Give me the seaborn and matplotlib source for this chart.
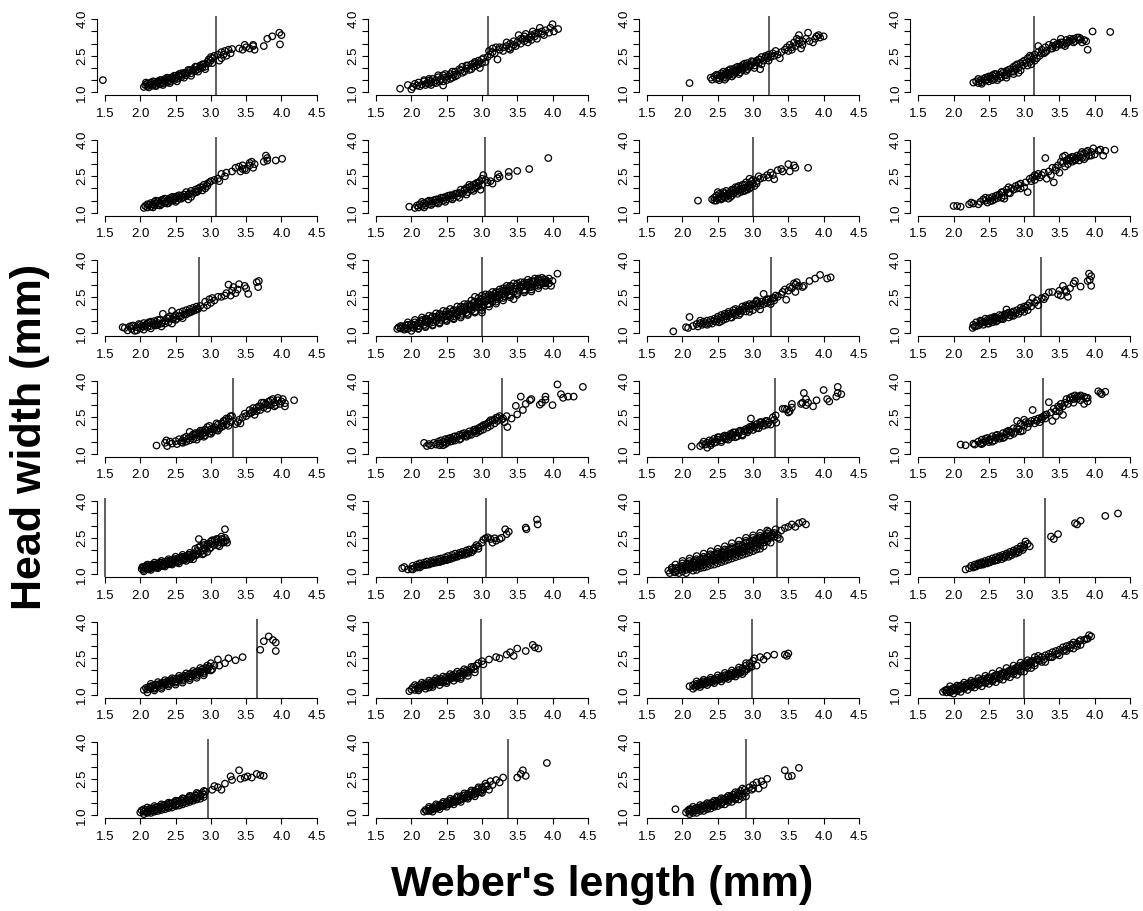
import matplotlib
matplotlib.use("Agg")
import matplotlib.pyplot as plt
import seaborn as sns
import pandas as pd

# ---- data: one list of (Weber's length, head width) points per panel ----
P01 = [(1.47,1.50),(2.05,1.22),(2.07,1.30),(2.10,1.25),(2.10,1.36),(2.13,1.30),(2.15,1.40),(2.17,1.27),(2.20,1.35),(2.20,1.42),(2.22,1.30),(2.25,1.38),(2.25,1.45),(2.28,1.33),(2.30,1.42),(2.30,1.50),(2.32,1.37),(2.35,1.45),(2.35,1.55),(2.38,1.40),(2.40,1.50),(2.40,1.58),(2.42,1.45),(2.45,1.55),(2.45,1.62),(2.48,1.50),(2.50,1.60),(2.50,1.68),(2.52,1.55),(2.55,1.65),(2.55,1.75),(2.58,1.62),(2.60,1.72),(2.62,1.80),(2.65,1.70),(2.68,1.82),(2.70,1.90),(2.72,1.78),(2.75,1.95),(2.78,1.88),(2.80,2.05),(2.82,1.95),(2.85,2.10),(2.88,2.02),(2.90,2.15),(2.92,2.05),(2.95,2.25),(2.97,2.35),(3.00,2.30),(3.00,2.45),(3.02,2.20),(3.05,2.50),(3.10,2.55),(3.15,2.40),(3.15,2.65),(3.18,2.55),(3.20,2.70),(3.22,2.50),(3.25,2.75),(3.28,2.60),(3.30,2.78),(3.40,2.80),(3.45,2.75),(3.48,2.95),(3.50,2.85),(3.55,2.80),(3.60,2.90),(3.62,2.75),(3.75,2.90),(3.80,3.20),(3.87,3.30),(3.97,3.45),(3.98,2.97),(4.00,3.35),(3.60,2.95),(3.12,2.30),
       (2.08,1.40),(2.12,1.20),(2.18,1.45),(2.22,1.25),(2.28,1.50),(2.32,1.30),(2.38,1.60),(2.42,1.38),(2.48,1.68),(2.52,1.45),(2.58,1.78),(2.62,1.60),(2.68,1.92),(2.72,1.68),(2.78,2.05),(2.82,1.85),(2.88,2.15),(2.92,1.95),(2.97,2.20),(3.02,2.40),(2.15,1.32),(2.25,1.40),(2.35,1.48),(2.45,1.58),(2.55,1.68),(2.65,1.78),(2.75,1.88),(2.85,2.00)]
P02 = [(1.84,1.15),(1.95,1.30),(2.00,1.12),(2.02,1.22),(2.05,1.35),(2.08,1.28),(2.10,1.40),(2.15,1.32),(2.18,1.45),(2.20,1.30),(2.22,1.38),(2.25,1.48),(2.25,1.35),(2.28,1.42),(2.30,1.55),(2.32,1.40),(2.35,1.50),(2.38,1.62),(2.40,1.45),(2.42,1.55),(2.45,1.70),(2.45,1.28),(2.48,1.60),(2.50,1.50),(2.52,1.65),(2.55,1.75),(2.58,1.60),(2.60,1.72),(2.62,1.85),(2.65,1.70),(2.70,1.90),(2.72,2.05),(2.75,1.85),(2.78,1.98),(2.80,2.10),(2.82,1.92),(2.85,2.15),(2.88,2.05),(2.90,2.25),(2.92,2.10),(2.95,2.30),(2.97,2.00),(3.00,2.35),(3.02,2.40),(3.05,2.25),(3.08,2.45),(3.10,2.70),(3.12,2.55),(3.15,2.80),(3.18,2.60),(3.20,2.85),(3.22,2.35),(3.25,2.75),(3.30,2.70),(3.35,2.90),(3.38,2.80),(3.40,3.00),(3.42,2.85),(3.45,3.10),(3.48,2.90),(3.50,3.05),(3.52,3.35),(3.55,3.00),(3.58,3.20),(3.60,3.10),(3.62,3.40),(3.65,3.05),(3.68,3.25),(3.70,3.15),(3.72,3.50),(3.75,3.30),(3.78,3.20),(3.80,3.45),(3.82,3.65),(3.85,3.50),(3.88,3.35),(3.90,3.55),(3.95,3.45),(3.97,3.65),(4.00,3.80),(4.02,3.50),(4.08,3.60),(3.60,3.30),(3.35,3.05),
       (2.12,1.25),(2.18,1.50),(2.25,1.55),(2.28,1.30),(2.35,1.38),(2.38,1.70),(2.45,1.45),(2.48,1.75),(2.55,1.55),(2.58,1.85),(2.62,1.65),(2.68,1.95),(2.72,1.80),(2.78,2.10),(2.85,1.95),(2.90,2.20),(2.95,2.15),(3.00,2.20),(3.25,2.85),(3.45,2.95),(3.55,3.20),(3.65,3.20),(3.75,3.40),(3.85,3.40),(3.70,3.35),(3.40,2.75),(3.30,2.85),(3.15,2.65)]
P03 = [(2.10,1.38),(2.40,1.60),(2.42,1.52),(2.45,1.65),(2.48,1.55),(2.50,1.70),(2.52,1.58),(2.55,1.65),(2.55,1.78),(2.58,1.60),(2.60,1.72),(2.60,1.52),(2.62,1.82),(2.65,1.68),(2.65,1.90),(2.68,1.75),(2.70,1.85),(2.70,1.65),(2.72,1.95),(2.75,1.80),(2.75,2.00),(2.78,1.88),(2.80,1.95),(2.80,1.75),(2.82,2.05),(2.85,1.92),(2.85,2.12),(2.88,2.00),(2.90,2.10),(2.90,1.88),(2.92,2.20),(2.95,2.05),(2.98,2.15),(3.00,2.25),(3.02,2.10),(3.05,2.30),(3.08,2.20),(3.10,2.35),(3.10,1.95),(3.12,2.45),(3.15,2.30),(3.18,2.50),(3.20,2.40),(3.22,2.55),(3.25,2.45),(3.28,2.60),(3.30,2.50),(3.32,2.70),(3.35,2.55),(3.38,2.40),(3.40,2.65),(3.45,2.75),(3.48,2.85),(3.50,2.70),(3.52,2.95),(3.55,2.85),(3.58,3.05),(3.60,2.90),(3.62,3.20),(3.65,3.00),(3.68,2.80),(3.70,3.10),(3.75,3.20),(3.78,3.45),(3.80,3.10),(3.85,3.05),(3.88,3.20),(3.90,3.30),(3.93,3.35),(3.95,3.25),(4.00,3.30),(3.65,3.35),
       (2.48,1.72),(2.52,1.50),(2.58,1.85),(2.62,1.60),(2.68,1.95),(2.72,1.72),(2.78,2.05),(2.82,1.82),(2.88,2.18),(2.92,1.95),(2.98,2.28),(3.02,2.00),(3.08,2.35),(3.12,2.15),(3.18,2.45),(3.22,2.30),(2.55,1.70),(2.65,1.80),(2.75,1.90),(2.85,2.02),(2.95,2.12),(3.05,2.22),(3.55,2.75),(3.65,3.15),(3.70,2.95)]
P04 = [(2.28,1.40),(2.32,1.45),(2.35,1.38),(2.38,1.50),(2.40,1.42),(2.42,1.55),(2.45,1.48),(2.45,1.60),(2.48,1.52),(2.50,1.65),(2.50,1.45),(2.52,1.58),(2.55,1.70),(2.58,1.55),(2.60,1.65),(2.60,1.75),(2.62,1.50),(2.65,1.72),(2.68,1.62),(2.70,1.80),(2.72,1.70),(2.75,1.88),(2.75,1.60),(2.78,1.78),(2.80,1.95),(2.82,1.85),(2.85,2.05),(2.85,1.75),(2.88,1.95),(2.90,2.15),(2.92,2.00),(2.95,1.90),(2.95,2.20),(2.98,2.10),(3.00,2.30),(3.02,2.20),(3.05,2.40),(3.08,2.25),(3.10,2.45),(3.10,2.15),(3.12,2.35),(3.15,2.55),(3.18,2.40),(3.20,2.65),(3.20,2.90),(3.22,2.50),(3.25,2.75),(3.28,2.60),(3.30,2.85),(3.32,2.70),(3.35,2.95),(3.38,2.80),(3.40,2.90),(3.42,3.05),(3.45,2.85),(3.48,3.00),(3.50,2.95),(3.52,3.20),(3.55,3.05),(3.58,2.90),(3.60,3.15),(3.62,3.05),(3.65,3.10),(3.68,3.15),(3.70,3.05),(3.72,3.10),(3.75,3.25),(3.78,3.15),(3.80,3.20),(3.82,3.05),(3.85,3.15),(3.90,2.75),(3.88,3.10),(3.97,3.50),(4.22,3.48),
       (2.35,1.55),(2.40,1.35),(2.48,1.62),(2.55,1.50),(2.58,1.75),(2.65,1.58),(2.68,1.85),(2.75,1.70),(2.78,1.92),(2.85,1.85),(2.88,2.10),(2.92,1.80),(2.98,2.25),(3.05,2.10),(3.08,2.50),(3.15,2.30),(3.25,2.60),(3.30,2.65),(3.40,2.80),(3.45,2.95),(3.55,2.95),(3.60,3.00),(3.65,3.20),(3.70,3.20),(3.78,3.25),(3.52,3.05)]
P05 = [(2.05,1.20),(2.07,1.28),(2.10,1.22),(2.12,1.32),(2.15,1.40),(2.15,1.25),(2.18,1.35),(2.20,1.30),(2.20,1.45),(2.22,1.38),(2.25,1.32),(2.25,1.48),(2.28,1.40),(2.30,1.35),(2.30,1.52),(2.32,1.45),(2.35,1.40),(2.35,1.58),(2.38,1.48),(2.40,1.55),(2.40,1.40),(2.42,1.60),(2.45,1.50),(2.45,1.65),(2.48,1.55),(2.50,1.62),(2.50,1.45),(2.52,1.68),(2.55,1.58),(2.58,1.70),(2.60,1.62),(2.62,1.75),(2.65,1.68),(2.65,1.85),(2.68,1.55),(2.70,1.80),(2.72,1.90),(2.75,1.78),(2.78,1.95),(2.80,1.85),(2.82,2.00),(2.85,2.05),(2.88,1.92),(2.90,2.15),(2.92,2.00),(2.95,2.10),(2.98,2.25),(3.00,2.30),(3.05,2.35),(3.10,2.40),(3.12,2.30),(3.15,2.60),(3.20,2.50),(3.22,2.65),(3.30,2.70),(3.35,2.85),(3.40,2.90),(3.42,2.70),(3.45,2.95),(3.48,2.80),(3.50,2.75),(3.55,2.95),(3.58,3.10),(3.60,2.85),(3.62,3.00),(3.75,3.10),(3.78,3.35),(3.80,3.15),(3.80,3.25),(3.92,3.15),(4.01,3.22),
       (2.10,1.35),(2.18,1.22),(2.22,1.50),(2.28,1.30),(2.32,1.55),(2.38,1.38),(2.42,1.50),(2.48,1.65),(2.52,1.50),(2.55,1.72),(2.58,1.58),(2.62,1.65),(2.68,1.75),(2.72,1.65),(2.78,1.85),(2.82,1.90),(2.88,2.05),(2.95,2.20),(3.45,2.80),(3.55,3.05)]
P06 = [(1.97,1.25),(2.05,1.20),(2.08,1.30),(2.10,1.22),(2.12,1.35),(2.15,1.28),(2.18,1.40),(2.20,1.30),(2.22,1.45),(2.25,1.35),(2.28,1.48),(2.30,1.38),(2.32,1.52),(2.35,1.42),(2.38,1.55),(2.40,1.45),(2.42,1.62),(2.45,1.50),(2.48,1.65),(2.50,1.55),(2.52,1.70),(2.55,1.60),(2.58,1.72),(2.60,1.62),(2.62,1.78),(2.65,1.68),(2.68,1.82),(2.70,1.95),(2.72,1.78),(2.75,1.90),(2.78,2.02),(2.80,1.85),(2.82,2.05),(2.85,1.95),(2.88,2.15),(2.90,2.00),(2.92,2.22),(2.95,2.10),(2.97,2.30),(2.98,1.95),(3.00,2.40),(3.02,2.55),(3.05,2.35),(3.08,2.25),(3.12,2.30),(3.15,2.20),(3.22,2.42),(3.23,2.58),(3.25,2.48),(3.38,2.50),(3.38,2.68),(3.50,2.72),(3.67,2.80),(3.94,3.25),
       (2.15,1.45),(2.18,1.22),(2.25,1.50),(2.28,1.32),(2.35,1.55),(2.38,1.38),(2.45,1.62),(2.48,1.45),(2.55,1.72),(2.58,1.55),(2.65,1.80),(2.68,1.62),(2.75,1.95),(2.78,1.75),(2.85,2.10),(2.88,1.90),(2.95,2.25),(2.92,2.05),(3.00,2.15),(2.82,2.15)]
P07 = [(2.22,1.50),(2.42,1.55),(2.45,1.62),(2.45,1.50),(2.48,1.70),(2.50,1.58),(2.50,1.85),(2.52,1.65),(2.55,1.75),(2.55,1.55),(2.58,1.68),(2.60,1.80),(2.60,1.62),(2.62,1.90),(2.65,1.72),(2.65,1.58),(2.68,1.85),(2.70,1.95),(2.70,1.70),(2.72,1.80),(2.75,1.92),(2.75,2.05),(2.78,1.78),(2.80,1.95),(2.80,2.10),(2.82,1.85),(2.85,2.00),(2.85,2.15),(2.88,1.90),(2.90,2.05),(2.90,2.25),(2.92,1.95),(2.95,2.15),(2.95,2.40),(2.97,2.05),(3.00,2.20),(3.00,2.35),(3.02,2.10),(3.05,2.30),(3.08,2.50),(3.10,2.40),(3.15,2.45),(3.20,2.55),(3.22,2.45),(3.25,2.65),(3.28,2.55),(3.30,2.38),(3.35,2.75),(3.40,2.80),(3.42,2.70),(3.50,3.00),(3.52,2.70),(3.58,2.95),(3.60,2.85),(3.78,2.85),
       (2.48,1.50),(2.52,1.78),(2.58,1.85),(2.62,1.70),(2.68,1.65),(2.72,1.95),(2.78,2.05),(2.82,1.95),(2.88,2.15),(2.92,2.05),(2.98,2.30),(3.05,2.20),(2.55,1.60),(2.65,1.80),(2.75,1.85),(2.85,1.88),(2.95,2.00)]
P08 = [(2.00,1.28),(2.05,1.28),(2.10,1.25),(2.22,1.35),(2.25,1.42),(2.28,1.38),(2.35,1.35),(2.38,1.45),(2.42,1.55),(2.45,1.50),(2.48,1.42),(2.50,1.60),(2.52,1.48),(2.55,1.65),(2.58,1.55),(2.60,1.70),(2.62,1.60),(2.65,1.75),(2.68,1.62),(2.70,1.85),(2.72,1.70),(2.75,1.95),(2.78,2.05),(2.80,1.80),(2.85,1.95),(2.88,2.10),(2.90,2.00),(2.92,2.15),(2.95,2.20),(3.00,2.05),(3.02,2.25),(3.05,1.85),(3.08,2.40),(3.10,2.30),(3.12,2.45),(3.15,2.35),(3.18,2.50),(3.20,2.60),(3.22,2.45),(3.25,2.55),(3.28,2.65),(3.30,3.25),(3.32,2.40),(3.35,2.70),(3.38,2.55),(3.40,2.85),(3.42,2.25),(3.45,2.75),(3.48,2.95),(3.50,2.65),(3.52,3.10),(3.55,3.30),(3.58,2.90),(3.60,3.15),(3.62,3.00),(3.65,3.25),(3.68,3.10),(3.70,3.30),(3.72,3.20),(3.75,3.35),(3.78,3.15),(3.80,3.40),(3.82,3.25),(3.85,3.45),(3.88,3.30),(3.90,3.55),(3.92,3.35),(3.95,3.50),(3.98,3.65),(4.00,3.40),(4.05,3.55),(4.08,3.60),(4.12,3.35),(4.15,3.55),(4.28,3.60),
       (2.45,1.62),(2.55,1.50),(2.62,1.72),(2.68,1.85),(2.72,1.58),(2.78,1.82),(2.82,2.00),(2.95,2.00),(3.15,2.55),(3.45,2.85),(3.55,3.05),(3.62,3.20),(3.68,3.30),(3.72,3.15),(3.78,3.30),(3.85,3.20),(3.88,3.50),(3.95,3.35),(3.82,3.50),(3.75,3.25),(3.58,3.35),(3.65,3.15)]
P09 = [(1.75,1.25),(1.78,1.22),(1.82,1.12),(1.85,1.28),(1.88,1.18),(1.90,1.32),(1.92,1.10),(1.95,1.25),(1.98,1.38),(2.00,1.20),(2.02,1.30),(2.05,1.15),(2.08,1.35),(2.10,1.25),(2.12,1.45),(2.15,1.30),(2.18,1.38),(2.20,1.50),(2.22,1.32),(2.25,1.42),(2.28,1.55),(2.30,1.40),(2.32,1.80),(2.35,1.50),(2.38,1.62),(2.40,1.45),(2.42,1.70),(2.45,1.58),(2.45,1.92),(2.48,1.65),(2.50,1.75),(2.52,1.60),(2.55,1.85),(2.58,1.70),(2.60,1.90),(2.62,1.78),(2.65,1.95),(2.68,1.85),(2.70,2.00),(2.72,1.88),(2.75,2.05),(2.78,1.95),(2.80,2.10),(2.82,2.00),(2.85,2.12),(2.90,2.05),(2.92,2.30),(2.95,2.15),(2.98,2.40),(3.00,2.25),(3.02,2.45),(3.05,2.35),(3.10,2.50),(3.15,2.50),(3.20,2.55),(3.22,2.65),(3.25,3.00),(3.28,2.55),(3.30,2.75),(3.32,2.90),(3.35,2.65),(3.38,2.80),(3.40,3.02),(3.48,2.95),(3.50,2.85),(3.53,2.62),(3.65,3.10),(3.67,2.90),(3.68,3.15),
       (1.88,1.30),(1.95,1.12),(2.00,1.35),(2.05,1.28),(2.10,1.40),(2.15,1.20),(2.20,1.35),(2.25,1.55),(2.30,1.28),(2.35,1.40),(2.40,1.62),(2.45,1.40),(2.50,1.55),(2.55,1.70),(2.60,1.62),(2.65,1.78),(2.70,1.85),(2.75,1.92),(2.80,2.00),(2.25,1.35),(2.15,1.48),(2.05,1.42)]
P10 = [(1.80,1.18),(1.82,1.25),(1.85,1.20),(1.88,1.28),(1.90,1.22),(1.92,1.32),(1.95,1.18),(1.98,1.30),(2.00,1.25),(2.00,1.38),(2.03,1.22),(2.05,1.35),(2.08,1.28),(2.10,1.42),(2.12,1.30),(2.15,1.48),(2.15,1.55),(2.18,1.35),(2.20,1.45),(2.22,1.58),(2.25,1.40),(2.25,1.52),(2.28,1.62),(2.30,1.45),(2.32,1.55),(2.35,1.68),(2.35,1.50),(2.38,1.60),(2.40,1.72),(2.42,1.55),(2.45,1.65),(2.45,1.78),(2.48,1.58),(2.50,1.70),(2.52,1.82),(2.55,1.65),(2.55,1.75),(2.58,1.88),(2.60,1.70),(2.62,1.82),(2.65,1.95),(2.65,1.75),(2.68,1.88),(2.70,2.00),(2.72,1.80),(2.75,1.92),(2.75,2.08),(2.78,1.85),(2.80,2.00),(2.82,2.15),(2.85,1.95),(2.85,2.10),(2.88,2.25),(2.90,2.05),(2.90,2.50),(2.92,2.18),(2.95,2.32),(2.95,2.08),(2.98,2.25),(3.00,2.40),(3.00,1.85),(3.02,2.15),(3.05,2.30),(3.05,2.50),(3.08,2.20),(3.10,2.38),(3.12,2.55),(3.15,2.30),(3.15,2.45),(3.18,2.62),(3.20,2.40),(3.22,2.55),(3.25,2.70),(3.25,2.45),(3.28,2.60),(3.30,2.75),(3.32,2.52),(3.35,2.68),(3.35,2.85),(3.38,2.60),(3.40,2.75),(3.42,2.92),(3.45,2.70),(3.45,2.40),(3.48,2.82),(3.50,2.95),(3.52,2.75),(3.55,2.88),(3.58,3.00),(3.60,2.80),(3.62,2.95),(3.65,3.08),(3.68,2.90),(3.70,2.72),(3.70,3.02),(3.72,3.12),(3.75,2.95),(3.78,3.08),(3.80,3.18),(3.82,3.00),(3.85,3.12),(3.88,3.22),(3.90,3.05),(3.92,3.15),(3.95,3.25),(3.98,2.95),(4.00,3.15),(4.07,3.45),
       (1.85,1.30),(1.90,1.15),(1.95,1.35),(2.05,1.45),(2.10,1.20),(2.20,1.30),(2.20,1.60),(2.30,1.70),(2.30,1.35),(2.40,1.45),(2.40,1.80),(2.50,1.90),(2.50,1.55),(2.60,1.62),(2.60,1.95),(2.70,2.10),(2.70,1.72),(2.80,1.80),(2.80,2.20),(2.90,1.90),(2.90,2.30),(3.00,2.05),(3.00,2.55),(3.10,2.20),(3.10,2.60),(3.20,2.30),(3.20,2.70),(3.30,2.45),(3.30,2.85),(3.40,2.55),(3.40,2.95),(3.50,2.65),(3.50,3.05),(3.60,2.75),(3.60,3.10),(3.70,2.90),(3.70,3.15),(3.80,2.95),(3.80,3.25),(3.90,3.20),(3.90,3.10),(3.95,3.05),(2.55,1.80),(2.65,1.85),(2.75,2.00),(2.85,2.15),(2.95,2.20),(3.05,2.40),(3.15,2.55),(3.25,2.60),(3.35,2.75),(3.45,2.85),(3.55,2.95),(3.65,3.00),(3.75,3.15),(3.85,3.05),
       (1.95,1.45),(2.05,1.55),(2.15,1.65),(2.25,1.72),(2.35,1.82),(2.45,1.92),(2.55,2.00),(2.65,2.10),(2.75,2.20),(2.85,2.35),(2.95,2.45),(3.05,2.60),(3.15,2.70),(3.25,2.80),(3.35,2.95),(3.45,3.05),(3.55,3.10),(3.65,3.20),(3.75,3.25),(3.85,3.28),(2.00,1.10),(2.10,1.18),(2.20,1.25),(2.30,1.32),(2.40,1.40),(2.50,1.50),(2.60,1.58),(2.70,1.65),(2.80,1.75),(2.90,1.85),(3.00,1.95),(3.10,2.10),(3.20,2.22),(3.30,2.35),(3.40,2.48),(3.50,2.58),(3.60,2.68),(3.70,2.80),(3.80,2.85),(3.90,2.95)]
P11 = [(1.87,1.08),(2.05,1.25),(2.08,1.22),(2.10,1.67),(2.15,1.30),(2.20,1.38),(2.22,1.28),(2.25,1.42),(2.28,1.35),(2.30,1.48),(2.32,1.38),(2.35,1.52),(2.38,1.42),(2.40,1.55),(2.42,1.40),(2.45,1.60),(2.48,1.48),(2.50,1.58),(2.52,1.45),(2.55,1.65),(2.58,1.55),(2.60,1.70),(2.62,1.60),(2.65,1.88),(2.65,1.72),(2.68,1.65),(2.70,1.80),(2.72,1.95),(2.75,1.75),(2.78,1.88),(2.80,1.98),(2.82,1.82),(2.85,1.95),(2.88,2.05),(2.90,1.90),(2.92,2.10),(2.95,2.00),(2.98,2.15),(3.00,1.95),(3.02,2.20),(3.05,2.08),(3.08,2.25),(3.10,2.15),(3.12,2.30),(3.15,2.62),(3.15,2.20),(3.18,2.35),(3.20,2.25),(3.22,2.40),(3.25,2.30),(3.28,2.45),(3.30,2.35),(3.32,2.55),(3.35,2.50),(3.40,2.60),(3.42,2.70),(3.45,2.80),(3.47,2.38),(3.50,2.75),(3.52,2.90),(3.55,2.85),(3.58,3.05),(3.60,2.70),(3.62,3.10),(3.65,2.95),(3.70,2.90),(3.72,2.95),(3.80,3.15),(3.88,3.25),(3.95,3.40),(4.05,3.25),(4.10,3.30),(3.60,3.00),
       (2.25,1.52),(2.35,1.35),(2.45,1.50),(2.50,1.68),(2.55,1.50),(2.60,1.80),(2.70,1.65),(2.75,2.00),(2.80,1.75),(2.85,2.10),(2.90,2.15),(2.95,1.88),(3.00,2.20),(3.05,2.30),(3.10,1.98),(3.20,2.40),(3.25,2.20),(3.30,2.45),(2.55,1.75),(2.65,1.80),(2.72,1.85),(2.82,1.92),(2.95,2.20),(3.05,2.35)]
P12 = [(2.27,1.22),(2.28,1.35),(2.30,1.28),(2.32,1.45),(2.35,1.32),(2.38,1.40),(2.40,1.50),(2.42,1.35),(2.45,1.45),(2.48,1.55),(2.50,1.40),(2.52,1.50),(2.55,1.62),(2.55,1.45),(2.58,1.55),(2.60,1.65),(2.62,1.52),(2.65,1.60),(2.68,1.72),(2.70,1.58),(2.72,1.68),(2.75,1.80),(2.75,1.98),(2.78,1.65),(2.80,1.75),(2.82,1.85),(2.85,1.72),(2.88,1.82),(2.90,1.95),(2.92,1.80),(2.95,1.90),(2.98,2.00),(3.00,1.88),(3.02,2.05),(3.05,1.95),(3.05,2.15),(3.08,2.25),(3.10,2.10),(3.12,2.45),(3.15,2.25),(3.18,2.35),(3.20,2.15),(3.25,2.45),(3.28,2.40),(3.30,2.50),(3.35,2.68),(3.40,2.70),(3.48,2.60),(3.50,2.75),(3.52,2.55),(3.55,2.95),(3.58,2.78),(3.60,2.70),(3.62,2.50),(3.65,2.85),(3.70,3.05),(3.72,3.15),(3.80,2.92),(3.90,3.15),(3.92,3.45),(3.93,3.20),(3.95,2.95),(3.95,3.35),
       (2.32,1.30),(2.38,1.52),(2.42,1.45),(2.45,1.60),(2.50,1.52),(2.52,1.62),(2.58,1.68),(2.62,1.62),(2.65,1.75),(2.68,1.60),(2.72,1.78),(2.78,1.85),(2.82,1.72),(2.85,1.90),(2.95,2.05),(3.00,2.10),(2.48,1.40),(2.60,1.48)]
P13 = [(2.23,1.34),(2.35,1.45),(2.37,1.55),(2.38,1.32),(2.42,1.50),(2.45,1.42),(2.50,1.52),(2.52,1.40),(2.55,1.60),(2.58,1.48),(2.60,1.55),(2.62,1.65),(2.65,1.50),(2.68,1.62),(2.70,1.90),(2.72,1.72),(2.75,1.60),(2.78,1.78),(2.80,1.68),(2.82,1.85),(2.85,1.72),(2.85,1.95),(2.88,1.80),(2.90,1.88),(2.92,1.75),(2.95,1.95),(2.95,2.10),(2.98,1.85),(3.00,2.00),(3.02,1.90),(3.05,2.10),(3.08,1.98),(3.10,2.20),(3.12,2.05),(3.15,2.25),(3.18,2.15),(3.20,2.35),(3.22,2.20),(3.25,2.45),(3.28,2.30),(3.30,2.55),(3.35,2.22),(3.38,2.30),(3.40,2.40),(3.42,2.25),(3.45,2.50),(3.48,2.65),(3.50,2.55),(3.55,2.80),(3.58,2.70),(3.60,2.88),(3.62,2.60),(3.65,2.75),(3.68,2.95),(3.70,2.80),(3.72,3.10),(3.75,2.90),(3.78,3.05),(3.80,2.85),(3.82,3.15),(3.85,3.00),(3.88,3.25),(3.90,3.10),(3.92,3.00),(3.95,3.20),(3.98,3.05),(4.00,3.15),(4.02,3.25),(4.05,2.95),(4.05,3.08),(4.18,3.20),
       (2.60,1.45),(2.65,1.70),(2.70,1.55),(2.75,1.80),(2.80,1.58),(2.85,1.85),(2.90,1.70),(2.92,2.00),(2.98,2.15),(3.00,1.82),(3.05,2.00),(3.08,2.25),(3.10,1.95),(3.15,2.10),(3.18,2.35),(3.22,2.45),(3.25,2.15),(3.28,2.55),(3.55,2.65),(3.65,2.90),(3.75,3.10),(3.80,3.00),(3.85,3.20),(3.90,2.95),(3.95,3.30),(3.70,2.95),(3.60,2.75),(2.88,1.95),(2.78,1.85)]
P14 = [(2.18,1.45),(2.22,1.32),(2.25,1.40),(2.28,1.35),(2.32,1.45),(2.35,1.38),(2.38,1.50),(2.40,1.42),(2.42,1.55),(2.45,1.35),(2.45,1.48),(2.48,1.60),(2.50,1.45),(2.52,1.55),(2.55,1.65),(2.55,1.50),(2.58,1.60),(2.60,1.70),(2.62,1.55),(2.65,1.68),(2.68,1.78),(2.70,1.62),(2.72,1.75),(2.75,1.85),(2.78,1.70),(2.80,1.82),(2.82,1.92),(2.85,1.78),(2.88,1.90),(2.90,2.00),(2.92,1.85),(2.95,2.05),(2.98,1.95),(3.00,2.12),(3.02,2.00),(3.05,2.20),(3.08,2.08),(3.10,2.30),(3.12,2.15),(3.15,2.38),(3.18,2.25),(3.20,2.48),(3.22,2.35),(3.25,2.55),(3.28,2.40),(3.30,2.45),(3.32,2.30),(3.35,2.55),(3.36,2.10),(3.42,2.45),(3.50,2.62),(3.48,2.97),(3.55,3.35),(3.58,2.80),(3.62,3.05),(3.68,3.20),(3.70,3.25),(3.82,3.02),(3.85,3.10),(3.90,3.35),(3.90,3.22),(4.00,3.00),(4.07,3.85),(4.12,3.45),(4.15,3.30),(4.22,3.35),(4.30,3.35),(4.43,3.75),
       (2.40,1.35),(2.48,1.40),(2.52,1.62),(2.58,1.52),(2.62,1.72),(2.68,1.58),(2.72,1.82),(2.78,1.75),(2.82,1.78),(2.88,1.98),(2.92,1.95),(2.98,2.10),(3.02,2.18),(3.08,2.25),(3.12,2.38),(3.18,2.40),(3.22,2.50),(2.95,1.90)]
P15 = [(2.13,1.30),(2.25,1.32),(2.28,1.40),(2.30,1.50),(2.32,1.38),(2.35,1.45),(2.35,1.25),(2.38,1.55),(2.40,1.42),(2.42,1.52),(2.45,1.62),(2.48,1.48),(2.50,1.58),(2.52,1.68),(2.55,1.55),(2.58,1.65),(2.60,1.75),(2.62,1.60),(2.65,1.72),(2.68,1.82),(2.70,1.68),(2.72,1.78),(2.75,1.88),(2.78,1.72),(2.80,1.85),(2.82,1.95),(2.85,1.80),(2.88,1.92),(2.90,2.02),(2.92,1.88),(2.95,2.00),(2.97,2.45),(2.98,2.12),(3.00,1.98),(3.02,2.10),(3.05,2.22),(3.08,2.05),(3.10,2.18),(3.12,2.30),(3.15,2.15),(3.18,2.35),(3.20,2.20),(3.22,2.28),(3.25,2.20),(3.28,2.50),(3.30,2.40),(3.32,2.58),(3.33,2.28),(3.42,2.85),(3.45,2.85),(3.48,2.82),(3.50,2.70),(3.52,2.75),(3.55,2.90),(3.55,3.05),(3.68,3.05),(3.70,3.10),(3.72,3.50),(3.75,3.00),(3.75,3.25),(3.78,3.10),(3.85,2.95),(3.90,3.20),(4.00,3.62),(4.05,3.25),(4.08,3.15),(4.18,3.35),(4.20,3.50),(4.20,3.75),(4.25,3.45),
       (2.40,1.35),(2.45,1.45),(2.50,1.68),(2.55,1.48),(2.60,1.62),(2.62,1.72),(2.65,1.58),(2.70,1.80),(2.75,1.68),(2.80,1.92),(2.85,1.75),(2.88,1.98),(2.92,1.95),(2.95,2.10),(3.00,2.15),(3.05,2.05),(3.10,2.30),(3.15,2.25),(3.20,2.35),(2.72,1.88),(2.58,1.72)]
P16 = [(2.10,1.38),(2.17,1.35),(2.28,1.42),(2.30,1.38),(2.35,1.50),(2.38,1.42),(2.40,1.58),(2.42,1.45),(2.45,1.52),(2.48,1.65),(2.50,1.48),(2.52,1.60),(2.55,1.72),(2.58,1.55),(2.60,1.65),(2.62,1.78),(2.65,1.62),(2.68,1.72),(2.70,1.85),(2.72,1.68),(2.75,1.80),(2.78,1.95),(2.80,1.75),(2.82,1.88),(2.85,2.05),(2.88,1.90),(2.90,2.35),(2.92,2.00),(2.95,2.25),(2.98,1.95),(3.00,2.15),(3.02,2.30),(3.05,2.10),(3.08,2.25),(3.10,2.35),(3.12,2.80),(3.15,2.25),(3.18,2.35),(3.20,2.45),(3.22,2.30),(3.25,2.42),(3.28,2.55),(3.30,2.45),(3.32,2.62),(3.35,3.12),(3.38,2.70),(3.40,2.35),(3.42,2.85),(3.45,2.55),(3.48,2.95),(3.50,2.75),(3.52,3.05),(3.55,2.60),(3.58,3.10),(3.60,3.25),(3.62,3.05),(3.65,3.20),(3.68,3.35),(3.70,3.10),(3.72,3.40),(3.75,3.25),(3.78,3.35),(3.80,3.20),(3.85,3.05),(3.88,3.30),(3.90,3.15),(4.05,3.57),(4.08,3.50),(4.10,3.45),(4.15,3.55),
       (2.40,1.40),(2.45,1.62),(2.50,1.55),(2.55,1.50),(2.60,1.75),(2.65,1.70),(2.70,1.65),(2.75,1.90),(2.80,1.92),(2.85,1.82),(2.90,2.05),(2.95,1.92),(3.00,2.40),(3.05,2.25),(3.15,2.40),(3.25,2.50),(3.30,2.60),(3.45,2.75),(3.50,2.90),(3.55,2.95),(3.65,3.30),(3.70,3.25),(3.75,3.35),(3.80,3.40),(3.85,3.35),(3.90,3.30)]
P17 = [(2.02,1.22),(2.03,1.30),(2.05,1.18),(2.07,1.25),(2.08,1.35),(2.10,1.22),(2.12,1.30),(2.15,1.38),(2.15,1.25),(2.18,1.32),(2.20,1.40),(2.20,1.28),(2.22,1.35),(2.25,1.45),(2.25,1.30),(2.28,1.40),(2.30,1.48),(2.30,1.35),(2.32,1.42),(2.35,1.52),(2.35,1.38),(2.38,1.45),(2.40,1.55),(2.40,1.42),(2.42,1.50),(2.45,1.60),(2.45,1.45),(2.48,1.55),(2.50,1.62),(2.50,1.50),(2.52,1.58),(2.55,1.68),(2.55,1.52),(2.58,1.62),(2.60,1.72),(2.60,1.58),(2.62,1.65),(2.65,1.75),(2.68,1.68),(2.70,1.80),(2.70,1.62),(2.72,1.72),(2.75,1.85),(2.78,2.05),(2.78,1.78),(2.80,1.95),(2.82,2.10),(2.83,2.45),(2.85,1.90),(2.88,2.00),(2.90,1.85),(2.92,2.05),(2.95,1.92),(2.95,2.15),(2.98,2.05),(3.00,2.25),(3.02,2.40),(3.05,2.20),(3.08,2.45),(3.10,2.30),(3.12,2.15),(3.15,2.45),(3.18,2.30),(3.20,2.50),(3.20,2.85),(3.22,2.40),(3.23,2.30),
       (2.05,1.30),(2.10,1.32),(2.12,1.20),(2.18,1.40),(2.22,1.28),(2.28,1.48),(2.32,1.35),(2.38,1.52),(2.42,1.42),(2.48,1.62),(2.52,1.48),(2.58,1.70),(2.62,1.58),(2.68,1.80),(2.72,1.68),(2.75,1.75),(2.80,1.80),(2.85,2.15),(2.90,2.20),(2.95,2.25),(3.00,2.10),(3.05,2.40),(3.10,2.45),(3.15,2.30),(3.20,2.35),(2.88,1.82),(2.82,1.85),
       (2.05,1.12),(2.15,1.18),(2.25,1.25),(2.35,1.32),(2.45,1.40),(2.55,1.45),(2.65,1.55),(2.75,1.62),(2.10,1.40),(2.20,1.48),(2.30,1.55),(2.40,1.62),(2.50,1.72),(2.60,1.80),(2.70,1.88),(2.90,2.30),(3.00,2.35),(3.10,2.20),(3.15,2.55)]
P18 = [(1.87,1.25),(1.90,1.30),(1.95,1.20),(2.00,1.22),(2.02,1.35),(2.05,1.28),(2.08,1.40),(2.10,1.32),(2.12,1.45),(2.15,1.35),(2.18,1.48),(2.20,1.38),(2.22,1.52),(2.25,1.40),(2.28,1.55),(2.30,1.45),(2.32,1.58),(2.35,1.48),(2.38,1.62),(2.40,1.50),(2.42,1.65),(2.45,1.55),(2.48,1.70),(2.50,1.58),(2.52,1.75),(2.55,1.62),(2.58,1.80),(2.60,1.68),(2.62,1.85),(2.65,1.72),(2.68,1.88),(2.70,1.78),(2.72,1.92),(2.75,1.80),(2.78,1.98),(2.80,1.85),(2.82,2.02),(2.85,1.90),(2.88,2.05),(2.92,2.20),(2.95,2.15),(3.00,2.30),(3.02,2.42),(3.05,2.48),(3.08,2.52),(3.12,2.45),(3.15,2.30),(3.18,2.48),(3.20,2.38),(3.25,2.45),(3.28,2.50),(3.33,2.85),(3.35,2.65),(3.38,2.75),(3.62,2.92),(3.63,2.85),(3.78,3.25),(3.79,3.05),
       (2.02,1.20),(2.08,1.28),(2.12,1.28),(2.18,1.40),(2.22,1.40),(2.28,1.45),(2.32,1.48),(2.38,1.52),(2.42,1.55),(2.48,1.60),(2.52,1.62),(2.58,1.68),(2.62,1.72),(2.68,1.78),(2.72,1.82),(2.78,1.88),(2.82,1.92),(2.88,1.98),(2.90,2.10),(2.95,2.05)]
P19 = [(1.80,1.15),(1.82,1.05),(1.85,1.20),(1.88,1.10),(1.90,1.25),(1.92,1.15),(1.95,1.05),(1.95,1.30),(1.98,1.20),(2.00,1.35),(2.00,1.12),(2.02,1.25),(2.05,1.40),(2.05,1.18),(2.08,1.30),(2.10,1.45),(2.10,1.22),(2.12,1.35),(2.15,1.50),(2.15,1.28),(2.18,1.40),(2.20,1.55),(2.20,1.30),(2.22,1.45),(2.25,1.60),(2.25,1.35),(2.28,1.50),(2.30,1.65),(2.30,1.40),(2.32,1.55),(2.35,1.70),(2.35,1.45),(2.38,1.58),(2.40,1.75),(2.40,1.50),(2.42,1.62),(2.45,1.80),(2.45,1.55),(2.48,1.68),(2.50,1.85),(2.50,1.58),(2.52,1.72),(2.55,1.90),(2.55,1.62),(2.58,1.78),(2.60,1.95),(2.60,1.68),(2.62,1.82),(2.65,2.00),(2.65,1.72),(2.68,1.88),(2.70,2.05),(2.70,1.78),(2.72,1.92),(2.75,2.10),(2.75,1.82),(2.78,1.98),(2.80,2.15),(2.80,1.88),(2.82,2.02),(2.85,2.20),(2.85,1.92),(2.88,2.08),(2.90,2.30),(2.90,1.98),(2.92,2.15),(2.95,2.35),(2.95,2.02),(2.98,2.20),(3.00,2.40),(3.00,2.10),(3.02,2.28),(3.05,2.45),(3.05,2.15),(3.08,2.35),(3.10,2.50),(3.10,2.20),(3.12,2.40),(3.15,2.55),(3.15,2.30),(3.18,2.45),(3.20,2.60),(3.20,2.35),(3.22,2.75),(3.25,2.50),(3.28,2.65),(3.30,2.55),(3.32,2.85),(3.35,2.62),(3.38,2.45),(3.40,2.80),(3.45,2.90),(3.50,2.95),(3.55,3.05),(3.60,2.95),(3.65,3.10),(3.70,3.15),(3.75,3.05),
       (1.85,1.28),(1.90,1.08),(2.00,1.45),(2.05,1.05),(2.10,1.55),(2.15,1.15),(2.20,1.62),(2.25,1.25),(2.30,1.72),(2.35,1.32),(2.40,1.82),(2.45,1.40),(2.50,1.92),(2.55,1.50),(2.60,2.02),(2.65,1.60),(2.70,2.12),(2.75,1.70),(2.80,2.22),(2.85,1.80),(2.90,2.38),(2.95,1.90),(3.00,2.50),(3.05,2.02),(3.10,2.58),(3.15,2.15),(3.20,2.68),(3.25,2.30),(3.30,2.70),(3.35,2.50),(3.00,2.25),(2.90,2.12),(2.80,2.00),(2.70,1.90),(2.60,1.80),(2.50,1.70),(2.40,1.60),(2.30,1.50),(2.20,1.40),(2.10,1.30),(3.10,2.35),(3.20,2.45),
       (1.90,1.40),(2.00,1.55),(2.10,1.65),(2.20,1.75),(2.30,1.85),(2.40,1.95),(2.50,2.05),(2.60,2.15),(2.70,2.28),(2.80,2.38),(2.90,2.50),(3.00,2.60),(3.10,2.70),(3.20,2.80),(2.05,1.30),(2.15,1.40),(2.25,1.48),(2.35,1.58),(2.45,1.68),(2.55,1.78),(2.65,1.88),(2.75,1.98),(2.85,2.08),(2.95,2.18),(3.05,2.30),(3.15,2.42),(3.25,2.60),(2.20,1.18),(2.30,1.28),(2.40,1.38),(2.50,1.45),(2.60,1.55),(2.70,1.65),(2.80,1.75),(2.90,1.85),(3.00,1.95),(3.10,2.05)]
P20 = [(2.17,1.20),(2.22,1.25),(2.25,1.35),(2.28,1.28),(2.30,1.40),(2.32,1.32),(2.35,1.45),(2.38,1.38),(2.40,1.50),(2.42,1.40),(2.45,1.55),(2.48,1.45),(2.50,1.60),(2.52,1.50),(2.55,1.65),(2.58,1.55),(2.60,1.70),(2.62,1.58),(2.65,1.75),(2.68,1.62),(2.70,1.80),(2.72,1.68),(2.75,1.85),(2.78,1.72),(2.80,1.92),(2.82,1.78),(2.85,1.98),(2.88,1.85),(2.90,2.05),(2.92,1.90),(2.95,2.15),(2.98,2.00),(3.00,2.20),(3.02,2.35),(3.05,2.25),(3.08,2.15),(3.38,2.55),(3.42,2.45),(3.48,2.65),(3.72,3.10),(3.75,3.05),(3.80,3.20),(4.15,3.40),(4.33,3.50),
       (2.45,1.45),(2.50,1.50),(2.55,1.55),(2.60,1.60),(2.65,1.68),(2.70,1.72),(2.75,1.78),(2.80,1.82),(2.85,1.90),(2.90,1.95),(2.95,2.05),(3.00,2.10),(2.40,1.45),(2.35,1.40),(2.30,1.32)]
P21 = [(2.05,1.20),(2.08,1.28),(2.10,1.22),(2.12,1.32),(2.15,1.28),(2.18,1.38),(2.20,1.30),(2.22,1.42),(2.25,1.35),(2.28,1.45),(2.30,1.40),(2.32,1.50),(2.35,1.42),(2.38,1.55),(2.40,1.48),(2.42,1.60),(2.45,1.52),(2.48,1.65),(2.50,1.55),(2.52,1.68),(2.55,1.60),(2.58,1.72),(2.60,1.65),(2.62,1.78),(2.65,1.70),(2.68,1.82),(2.70,1.75),(2.72,1.88),(2.75,1.80),(2.78,1.92),(2.80,1.85),(2.82,1.98),(2.85,1.90),(2.88,2.05),(2.90,1.95),(2.92,2.10),(2.95,2.00),(2.98,2.15),(3.00,2.30),(3.02,2.05),(3.05,2.20),(3.10,2.45),(3.12,2.20),(3.20,2.30),(3.25,2.50),(3.35,2.42),(3.45,2.55),(3.70,2.85),(3.75,3.20),(3.82,3.40),(3.88,3.25),(3.92,3.15),(3.92,2.80),
       (2.15,1.35),(2.25,1.42),(2.35,1.50),(2.45,1.58),(2.55,1.65),(2.65,1.75),(2.75,1.85),(2.85,1.95),(2.95,2.08),(2.20,1.25),(2.30,1.32),(2.40,1.42),(2.50,1.50),(2.60,1.58),(2.70,1.68),(2.80,1.78),(2.90,1.88),(3.00,2.00),
       (2.10,1.10),(2.20,1.18),(2.30,1.25),(2.40,1.35),(2.50,1.42),(2.60,1.50),(2.70,1.60),(2.80,1.70),(2.90,1.80),(2.15,1.45),(2.25,1.52),(2.35,1.60),(2.45,1.68),(2.55,1.78),(2.65,1.88),(2.75,1.98),(2.85,2.10),(2.95,2.20)]
P22 = [(1.97,1.15),(2.00,1.22),(2.02,1.30),(2.05,1.20),(2.08,1.35),(2.10,1.28),(2.12,1.40),(2.15,1.32),(2.18,1.45),(2.20,1.35),(2.22,1.48),(2.25,1.40),(2.28,1.52),(2.30,1.45),(2.32,1.58),(2.35,1.48),(2.38,1.62),(2.40,1.52),(2.42,1.65),(2.45,1.58),(2.48,1.70),(2.50,1.60),(2.52,1.75),(2.55,1.65),(2.58,1.80),(2.60,1.70),(2.62,1.85),(2.65,1.75),(2.68,1.88),(2.70,1.80),(2.72,1.95),(2.75,1.85),(2.78,2.00),(2.80,1.90),(2.85,2.05),(2.88,2.15),(2.92,2.20),(2.95,2.30),(3.00,2.38),(3.02,2.25),(3.10,2.45),(3.20,2.55),(3.25,2.50),(3.35,2.65),(3.40,2.75),(3.45,2.60),(3.50,2.90),(3.62,2.80),(3.72,3.05),(3.75,2.95),(3.80,2.90),
       (2.10,1.25),(2.20,1.42),(2.30,1.40),(2.40,1.58),(2.50,1.55),(2.60,1.75),(2.70,1.72),(2.80,1.95),(2.90,2.05),(2.25,1.30),(2.35,1.55),(2.45,1.50),(2.55,1.70),(2.65,1.68),(2.75,1.90),
       (2.05,1.40),(2.15,1.50),(2.25,1.58),(2.35,1.68),(2.45,1.75),(2.55,1.85),(2.65,1.95),(2.75,2.05),(2.85,2.15),(2.10,1.18),(2.20,1.25),(2.30,1.32),(2.40,1.40),(2.50,1.48),(2.60,1.58),(2.70,1.65),(2.80,1.78),(2.90,1.92)]
P23 = [(2.10,1.35),(2.15,1.40),(2.18,1.32),(2.20,1.45),(2.22,1.38),(2.25,1.50),(2.28,1.42),(2.30,1.55),(2.32,1.45),(2.35,1.58),(2.38,1.50),(2.40,1.62),(2.42,1.52),(2.45,1.65),(2.48,1.58),(2.50,1.70),(2.52,1.62),(2.55,1.75),(2.58,1.65),(2.60,1.80),(2.62,1.70),(2.65,1.85),(2.68,1.75),(2.70,1.90),(2.72,1.80),(2.75,1.95),(2.78,1.85),(2.80,2.02),(2.82,1.90),(2.85,2.10),(2.88,1.95),(2.90,2.20),(2.92,2.05),(2.95,2.30),(2.98,2.15),(3.00,2.40),(3.02,2.50),(3.05,2.20),(3.10,2.55),(3.15,2.45),(3.20,2.60),(3.30,2.65),(3.45,2.65),(3.48,2.60),(3.50,2.70),
       (2.20,1.38),(2.30,1.48),(2.40,1.55),(2.50,1.62),(2.60,1.72),(2.70,1.82),(2.80,1.92),(2.90,2.05),(2.25,1.42),(2.35,1.52),(2.45,1.60),(2.55,1.68),(2.65,1.78),(2.75,1.88),(2.85,2.00),(2.95,2.15),
       (2.15,1.25),(2.25,1.32),(2.35,1.40),(2.45,1.48),(2.55,1.55),(2.65,1.65),(2.75,1.75),(2.85,1.85),(2.20,1.55),(2.30,1.62),(2.40,1.70),(2.50,1.80),(2.60,1.90),(2.70,2.00),(2.80,2.12),(2.90,2.30)]
P24 = [(1.85,1.12),(1.88,1.18),(1.90,1.10),(1.92,1.22),(1.95,1.15),(1.98,1.25),(2.00,1.18),(2.02,1.30),(2.05,1.22),(2.08,1.35),(2.10,1.25),(2.12,1.40),(2.15,1.30),(2.18,1.42),(2.20,1.35),(2.22,1.48),(2.25,1.38),(2.28,1.52),(2.30,1.42),(2.32,1.55),(2.35,1.45),(2.38,1.60),(2.40,1.50),(2.42,1.65),(2.45,1.55),(2.48,1.70),(2.50,1.58),(2.52,1.72),(2.55,1.62),(2.58,1.78),(2.60,1.68),(2.62,1.82),(2.65,1.72),(2.68,1.88),(2.70,1.78),(2.72,1.92),(2.75,1.82),(2.78,1.98),(2.80,1.88),(2.82,2.05),(2.85,1.95),(2.88,2.10),(2.90,2.00),(2.92,2.18),(2.95,2.05),(2.98,2.22),(3.00,2.15),(3.02,2.30),(3.05,2.20),(3.08,2.35),(3.10,2.25),(3.12,2.40),(3.15,2.30),(3.18,2.45),(3.20,2.60),(3.22,2.40),(3.25,2.55),(3.28,2.45),(3.30,2.62),(3.35,2.68),(3.38,2.55),(3.40,2.75),(3.45,2.80),(3.48,2.70),(3.50,2.85),(3.55,2.95),(3.58,2.85),(3.60,3.00),(3.65,2.92),(3.68,3.05),(3.70,3.15),(3.75,3.10),(3.78,3.20),(3.80,3.05),(3.85,3.25),(3.88,3.30),(3.92,3.45),
       (1.90,1.20),(2.00,1.28),(2.10,1.35),(2.20,1.45),(2.30,1.52),(2.40,1.60),(2.50,1.68),(2.60,1.78),(2.70,1.88),(2.80,1.98),(2.90,2.10),(3.00,2.25),(3.10,2.35),(3.20,2.45),(1.95,1.10),(2.05,1.15),(2.15,1.25),(2.25,1.32),(2.35,1.40),(2.45,1.48),(2.55,1.55),(2.65,1.65),(2.75,1.75),(2.85,1.85),(2.95,1.95),(3.05,2.10),(3.15,2.20),(3.25,2.35),(3.35,2.55),(3.45,2.65),(3.55,2.80),(3.65,3.05),(3.75,3.00),
       (1.95,1.35),(2.05,1.38),(2.15,1.50),(2.25,1.58),(2.35,1.68),(2.45,1.78),(2.55,1.88),(2.65,1.98),(2.75,2.10),(2.85,2.20),(2.95,2.32),(3.05,2.42),(3.15,2.55),(2.00,1.05),(2.10,1.12),(2.20,1.20),(2.30,1.30),(2.40,1.35),(2.50,1.45),(2.60,1.52),(2.70,1.62),(2.80,1.72),(2.90,1.82),(3.00,1.95),(3.10,2.10),(3.30,2.35),(3.40,2.55),(3.50,2.62),(3.60,2.80),(3.70,2.90),(3.80,3.25),(3.90,3.30),(3.95,3.40)]
P25 = [(2.00,1.12),(2.02,1.20),(2.05,1.15),(2.08,1.22),(2.10,1.15),(2.12,1.25),(2.15,1.18),(2.18,1.28),(2.20,1.20),(2.22,1.32),(2.25,1.25),(2.28,1.35),(2.30,1.28),(2.32,1.40),(2.35,1.32),(2.38,1.45),(2.40,1.35),(2.42,1.48),(2.45,1.40),(2.48,1.52),(2.50,1.42),(2.52,1.58),(2.55,1.48),(2.58,1.62),(2.60,1.52),(2.62,1.68),(2.65,1.58),(2.68,1.72),(2.70,1.62),(2.72,1.78),(2.75,1.68),(2.78,1.82),(2.80,1.72),(2.82,1.88),(2.85,1.78),(2.88,1.92),(2.90,1.85),(2.92,1.98),(3.02,2.05),(3.05,2.20),(3.10,2.15),(3.15,2.05),(3.20,2.30),(3.28,2.60),(3.30,2.45),(3.40,2.85),(3.42,2.50),(3.48,2.55),(3.52,2.60),(3.58,2.55),(3.65,2.70),(3.70,2.65),(3.75,2.62),
       (2.05,1.25),(2.15,1.28),(2.25,1.35),(2.35,1.42),(2.45,1.50),(2.55,1.58),(2.65,1.65),(2.75,1.75),(2.85,1.85),(2.10,1.10),(2.20,1.15),(2.30,1.22),(2.40,1.30),(2.50,1.38),(2.60,1.45),(2.70,1.55),(2.80,1.65),(2.90,1.75),
       (2.05,1.05),(2.15,1.10),(2.25,1.18),(2.35,1.25),(2.45,1.32),(2.55,1.40),(2.65,1.50),(2.75,1.60),(2.85,1.68),(2.10,1.32),(2.20,1.38),(2.30,1.45),(2.40,1.52),(2.50,1.60),(2.60,1.70),(2.70,1.80),(2.80,1.92),(2.90,2.00)]
P26 = [(2.18,1.15),(2.20,1.22),(2.22,1.18),(2.25,1.28),(2.28,1.22),(2.30,1.32),(2.32,1.28),(2.35,1.38),(2.38,1.32),(2.40,1.42),(2.42,1.38),(2.45,1.48),(2.48,1.42),(2.50,1.55),(2.52,1.45),(2.55,1.60),(2.58,1.52),(2.60,1.65),(2.62,1.55),(2.65,1.72),(2.68,1.62),(2.70,1.78),(2.72,1.68),(2.75,1.82),(2.78,1.72),(2.80,1.88),(2.82,1.78),(2.85,1.95),(2.88,1.85),(2.90,2.00),(2.92,1.90),(2.95,2.08),(2.98,1.95),(3.00,2.15),(3.02,2.05),(3.05,2.30),(3.08,2.20),(3.12,2.40),(3.15,2.25),(3.20,2.45),(3.25,2.35),(3.30,2.55),(3.50,2.55),(3.55,2.70),(3.58,2.85),(3.62,2.62),(3.92,3.15),
       (2.25,1.18),(2.35,1.28),(2.45,1.38),(2.55,1.48),(2.65,1.58),(2.75,1.72),(2.85,1.82),(2.95,1.95),(2.30,1.25),(2.40,1.35),(2.50,1.45),(2.60,1.58),(2.70,1.65),(2.80,1.78),(2.90,1.92),(3.00,2.05),
       (2.25,1.35),(2.35,1.45),(2.45,1.55),(2.55,1.68),(2.65,1.78),(2.75,1.90),(2.85,2.02),(2.95,2.15),(3.05,2.20),(2.30,1.15),(2.40,1.25),(2.50,1.35),(2.60,1.45),(2.70,1.55),(2.80,1.68),(2.90,1.78),(3.00,1.92),(3.10,2.05)]
P27 = [(1.90,1.25),(2.05,1.12),(2.08,1.20),(2.10,1.15),(2.12,1.25),(2.15,1.18),(2.18,1.28),(2.20,1.20),(2.22,1.32),(2.25,1.25),(2.28,1.38),(2.30,1.28),(2.32,1.42),(2.35,1.32),(2.38,1.48),(2.40,1.38),(2.42,1.52),(2.45,1.42),(2.48,1.58),(2.50,1.48),(2.52,1.62),(2.55,1.52),(2.58,1.68),(2.60,1.58),(2.62,1.72),(2.65,1.62),(2.68,1.78),(2.70,1.68),(2.72,1.85),(2.75,1.72),(2.78,1.92),(2.80,1.80),(2.82,2.00),(2.85,1.88),(2.88,2.05),(2.90,1.95),(2.95,2.15),(2.98,2.05),(3.00,2.25),(3.05,2.35),(3.08,2.10),(3.12,2.40),(3.15,2.25),(3.20,2.50),(3.45,2.85),(3.50,2.60),(3.55,2.62),(3.65,2.95),
       (2.10,1.25),(2.20,1.30),(2.30,1.38),(2.40,1.45),(2.50,1.55),(2.60,1.65),(2.70,1.75),(2.80,1.88),(2.15,1.10),(2.25,1.18),(2.35,1.25),(2.45,1.35),(2.55,1.45),(2.65,1.55),(2.75,1.65),(2.85,1.75),
       (2.10,1.05),(2.20,1.10),(2.30,1.18),(2.40,1.28),(2.50,1.38),(2.60,1.45),(2.70,1.55),(2.80,1.65),(2.90,1.78),(2.15,1.35),(2.25,1.42),(2.35,1.50),(2.45,1.60),(2.55,1.70),(2.65,1.80),(2.75,1.95),(2.85,2.10),(3.00,2.10)]

PANELS = [P01, P02, P03, P04, P05, P06, P07, P08, P09, P10, P11, P12, P13, P14,
          P15, P16, P17, P18, P19, P20, P21, P22, P23, P24, P25, P26, P27]
VLINES = [3.07, 3.09, 3.23, 3.14, 3.07, 3.04, 3.00, 3.14, 2.83, 3.00, 3.25, 3.24, 3.32, 3.29,
          3.31, 3.27, 1.50, 3.06, 3.34, 3.30, 3.65, 2.99, 2.99, 3.00, 2.96, 3.37, 2.90]
X_TICKS = [1.5, 2.0, 2.5, 3.0, 3.5, 4.0, 4.5]
X_TICK_LABELS = ["1.5", "2.0", "2.5", "3.0", "3.5", "4.0", "4.5"]
Y_TICKS = [1.0, 1.5, 2.0, 2.5, 3.0, 3.5, 4.0]
Y_TICK_LABELS = ["1.0", "", "", "2.5", "", "", "4.0"]
X_LABEL = "Weber's length (mm)"
Y_LABEL = "Head width (mm)"

# ---- style ----
sns.set_style("ticks")
plt.rcParams["font.family"] = ["Liberation Sans", "DejaVu Sans"]
plt.rcParams["text.color"] = "black"
plt.rcParams["axes.labelcolor"] = "black"
plt.rcParams["xtick.color"] = "black"
plt.rcParams["ytick.color"] = "black"

W, H = 1143, 911
fig = plt.figure(figsize=(W / 100, H / 100), dpi=100)


def rect(r, c):
    x15 = 105 + 271.1 * c
    px = 211.7 / 3.0
    y40 = 19.3 + 120.5 * r
    py = 73.0 / 3.0
    left = x15 - 0.12 * px
    right = x15 + 3 * px + 0.12 * px
    top = y40 - 0.12 * py
    bottom = y40 + 3 * py + 0.12 * py
    return [left / W, 1 - bottom / H, (right - left) / W, (bottom - top) / H]


for i, pts in enumerate(PANELS):
    r, c = divmod(i, 4)
    ax = fig.add_axes(rect(r, c))
    df = pd.DataFrame(pts, columns=["weber", "head"])
    sns.scatterplot(data=df, x="weber", y="head", ax=ax, marker="o", s=22,
                    facecolor="none", edgecolor="black", linewidth=0.9, legend=False)
    ax.axvline(VLINES[i], color="#333333", lw=1.1, zorder=0)
    ax.set_xlim(1.38, 4.62)
    ax.set_ylim(0.88, 4.12)
    ax.set_xticks(X_TICKS)
    ax.set_xticklabels(X_TICK_LABELS)
    ax.set_yticks(Y_TICKS)
    ax.set_yticklabels(Y_TICK_LABELS, rotation=90, va="center")
    ax.set_xlabel("")
    ax.set_ylabel("")
    for s in ("top", "right"):
        ax.spines[s].set_visible(False)
    ax.spines["left"].set_bounds(1.0, 4.0)
    ax.spines["bottom"].set_bounds(1.5, 4.5)
    for s in ("left", "bottom"):
        ax.spines[s].set_linewidth(0.8)
        ax.spines[s].set_color("black")
    ax.tick_params(axis="x", direction="out", length=4, width=0.8, labelsize=9.5,
                   pad=5, colors="black")
    ax.tick_params(axis="y", direction="out", length=4, width=0.8, labelsize=9.5,
                   pad=2, colors="black")
    ax.set_facecolor("none")

fig.text(602 / W, 1 - 885 / H, X_LABEL, ha="center", va="center",
         fontsize=31, fontweight="bold", color="black")
fig.text(30 / W, 1 - 437 / H, Y_LABEL, ha="center", va="center",
         fontsize=31, fontweight="bold", rotation=90, color="black")

fig.savefig("out.png", dpi=100, facecolor="white")
